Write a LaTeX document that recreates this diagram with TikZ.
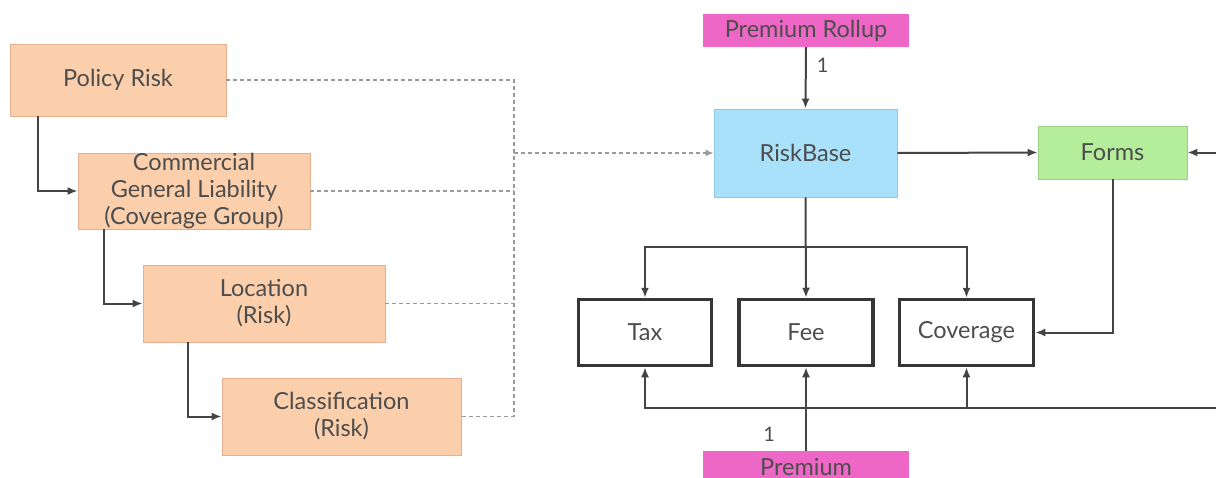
\documentclass[tikz,border=0pt]{standalone}
\usepackage{fontspec}
\setmainfont{Lato}
\usetikzlibrary{arrows.meta,calc}
\definecolor{peach}{HTML}{FBCFAB}
\definecolor{peachline}{HTML}{E0B090}
\definecolor{magentabox}{HTML}{EE66C6}
\definecolor{skyblue}{HTML}{A9E1FB}
\definecolor{skyline}{HTML}{90C8E0}
\definecolor{lightgreen}{HTML}{B5EE9B}
\definecolor{greenline}{HTML}{9CCF88}
\definecolor{inkgray}{HTML}{4D4D4D}
\definecolor{wiregray}{HTML}{444444}
\definecolor{dashgray}{HTML}{9A9A9A}
\begin{document}
\begin{tikzpicture}[x=1pt,y=-1pt,
  every node/.style={text=inkgray, font=\fontsize{23.5}{27}\selectfont, inner sep=0pt, align=center},
  riskbox/.style={draw=peachline, fill=peach, line width=0.8pt},
  rollbox/.style={draw=none, fill=magentabox},
  basebox/.style={draw=skyline, fill=skyblue, line width=0.8pt},
  formbox/.style={draw=greenline, fill=lightgreen, line width=0.8pt},
  itembox/.style={draw=wiregray!80!black, fill=white, line width=3.5pt},
  wire/.style={draw=wiregray, line width=2pt, -{Latex[length=10pt,width=8pt]}},
  dashwire/.style={draw=dashgray, line width=1.5pt, dash pattern=on 4pt off 3pt},
  dasharrow/.style={dashwire, -{Latex[length=8pt,width=7pt]}},
  countlabel/.style={font=\fontsize{20}{22}\selectfont}
]
\clip (0,0) rectangle (1216,477);
\fill[white] (0,0) rectangle (1216,477);

% Risk hierarchy
\node[riskbox, minimum width=216pt, minimum height=72pt] (pr) at (118,80) {Policy Risk};
\node[riskbox, minimum width=232pt, minimum height=76pt] (cgl) at (194,191) {Commercial\\General Liability\\(Coverage Group)};
\node[riskbox, minimum width=242pt, minimum height=77pt] (loc) at (264,303.5) {Location\\(Risk)};
\node[riskbox, minimum width=239pt, minimum height=77pt] (cls) at (341.5,416.5) {Classification\\(Risk)};

% Rating structure
\node[rollbox, minimum width=206pt, minimum height=33pt] (prr) at (806,30.5) {Premium Rollup};
\node[basebox, minimum width=183pt, minimum height=88pt] (rb) at (805.5,153) {RiskBase};
\node[formbox, minimum width=149pt, minimum height=53pt] (forms) at (1112.5,152.5) {Forms};
\node[itembox, minimum width=133pt, minimum height=66pt] (tax) at (645,332.5) {Tax};
\node[itembox, minimum width=134pt, minimum height=66pt] (fee) at (806,332.5) {Fee};
\node[itembox, minimum width=134pt, minimum height=66pt] (cov) at (966.5,332.5) {Coverage};
\node[rollbox, minimum width=206pt, minimum height=33pt] (prem) at (806,467.5) {Premium};

% Dashed bus joining the risk levels to RiskBase
\coordinate (bt) at (514,80);
\coordinate (bb) at (514,416.5);
\coordinate (bj) at (514,153);
\draw[dashwire] (pr.east) -- (bt) -- (bb) -- (cls.east);
\draw[dashwire] (cgl.east) -- (cgl.east -| bt);
\draw[dashwire] (loc.east) -- (loc.east -| bt);
\draw[dasharrow] (bj) -- (rb.west);

% Hierarchy connectors
\draw[wire] ($(pr.south west)+(28,0)$) |- (cgl.west);
\draw[wire] ($(cgl.south west)+(26,0)$) |- (loc.west);
\draw[wire] ($(loc.south west)+(45,0)$) |- (cls.west);

% RiskBase connectors
\draw[wire] (prr.south) -- node[countlabel, right=10pt, pos=0.3] {1} (rb.north);
\coordinate (split) at (806,247);
\draw[wire] (rb.south) -- (fee.north);
\draw[wire] (split) -| (tax.north);
\draw[wire] (split) -| (cov.north);
\draw[wire] (rb.east) -- (forms.west);
\coordinate (formsin) at (1216,152.5);
\draw[wire] (formsin) -- (forms.east);
\draw[wire] (forms.south) |- (cov.east);

% Premium connectors
\draw[wire] (prem.north) -- node[countlabel, left=30pt, pos=0.2] {1} (fee.south);
\coordinate (busr) at (1216,408);
\draw[wire] (busr) -| (tax.south);
\draw[wire] (cov.south |- busr) -- (cov.south);
\end{tikzpicture}
\end{document}
